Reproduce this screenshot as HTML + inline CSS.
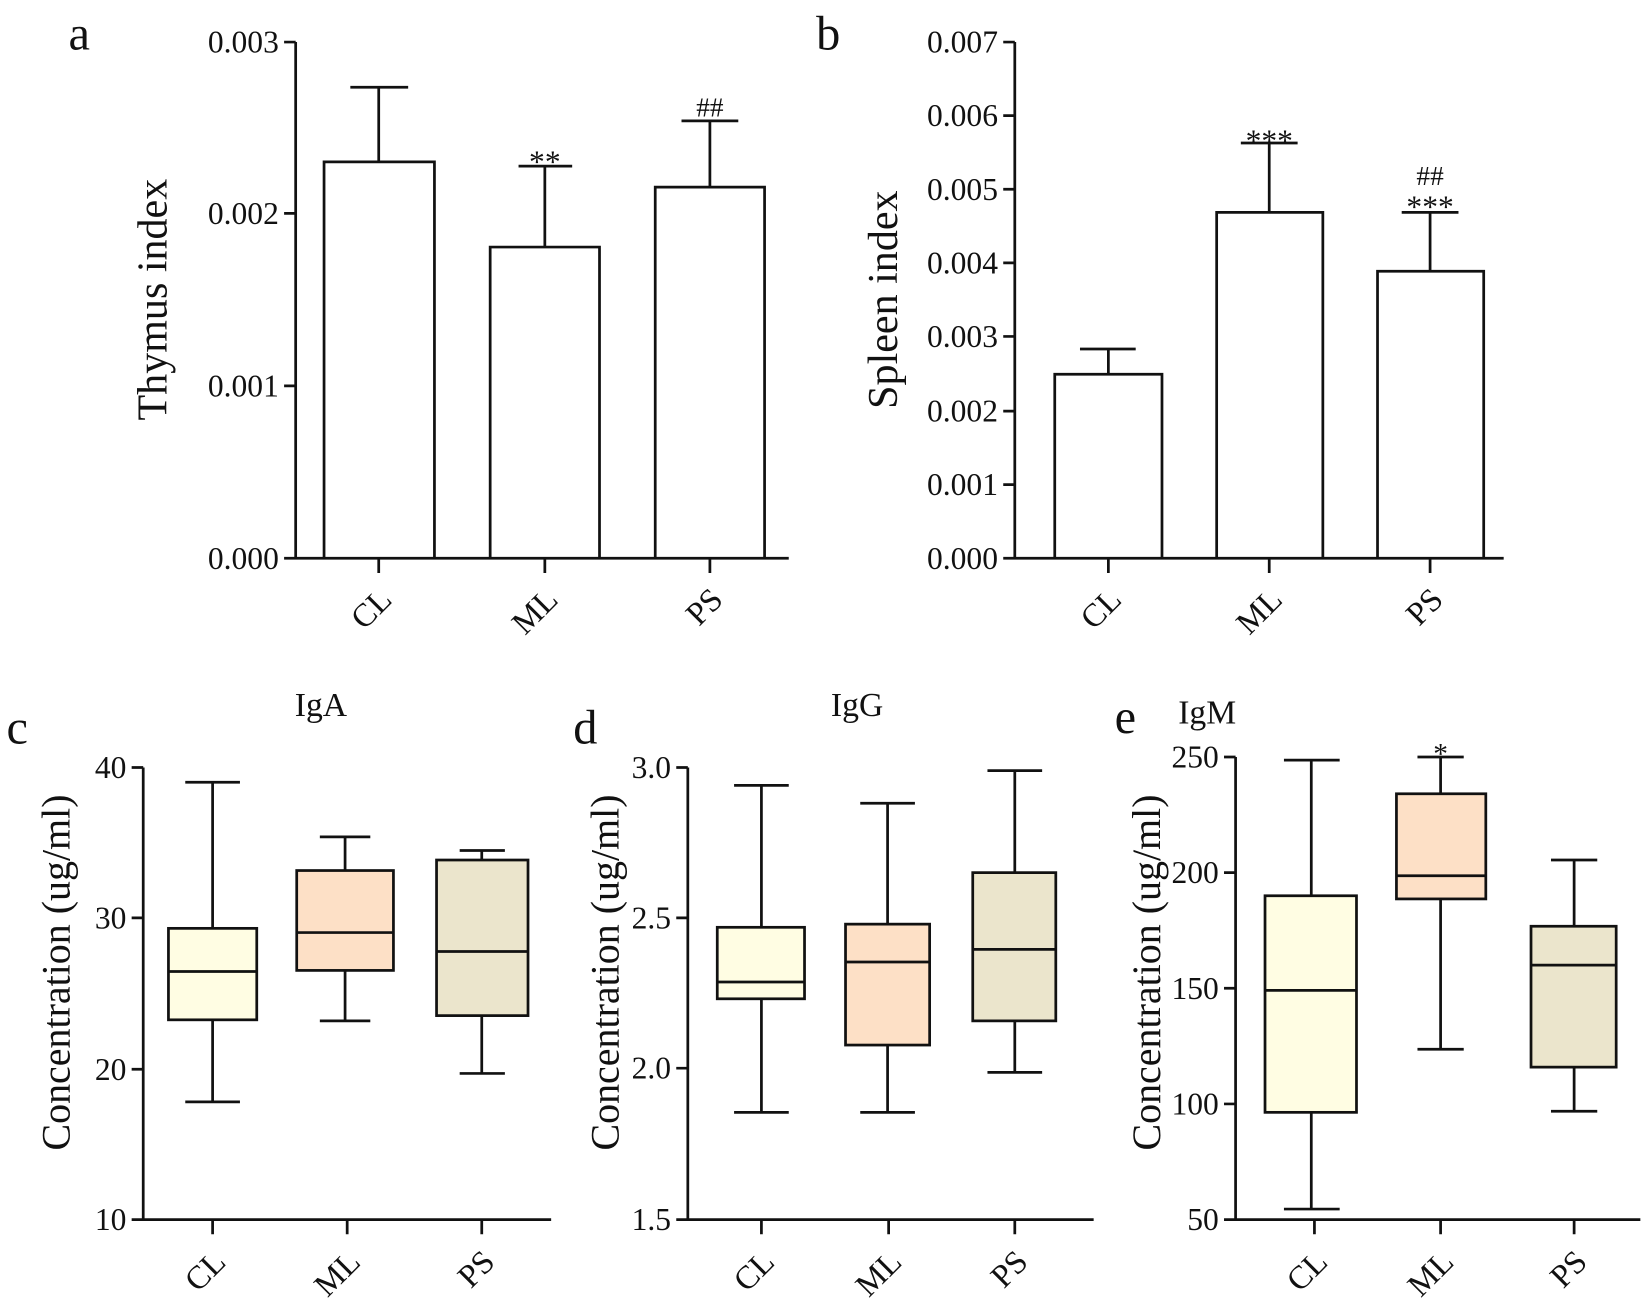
<!DOCTYPE html>
<html><head><meta charset="utf-8"><style>
html,body{margin:0;padding:0;background:#fff;}
svg{display:block;}
text{font-family:"Liberation Serif",serif;fill:#111;}
.t{font-size:30px;}
.x{font-size:31px;}
.l{stroke:#111;stroke-width:2.6;fill:none;}
</style></head><body>
<svg width="1649" height="1310" viewBox="0 0 1568 1246" xmlns="http://www.w3.org/2000/svg">
<!-- Panel a -->
<text x="65" y="47" font-size="46">a</text>
<path class="l" d="M281 40V531H750M270 40H281M270 203H281M270 367H281M270 531H281M360 531V545M518 531V545M675 531V545"/>
<g class="t" text-anchor="end"><text x="265" y="50">0.003</text><text x="265" y="213">0.002</text><text x="265" y="377">0.001</text><text x="265" y="541">0.000</text></g>
<text transform="translate(158 285) rotate(-90)" font-size="40" text-anchor="middle">Thymus index</text>
<path class="l" d="M308 531V154H413V531M360 154V83M333 83H388M466 531V235H570V531M518 235V158M493 158H544M623 531V178H727V531M675 178V115M648 115H702"/>
<text x="518" y="164" font-size="30" text-anchor="middle">**</text>
<text x="675" y="111" font-size="26" text-anchor="middle">##</text>
<g class="x" text-anchor="end"><text transform="translate(374 572) rotate(-45)">CL</text><text transform="translate(532 572) rotate(-45)">ML</text><text transform="translate(689 572) rotate(-45)">PS</text></g>
<!-- Panel b -->
<text x="776" y="47" font-size="46">b</text>
<path class="l" d="M965 40V531H1430M954 40H965M954 110H965M954 180H965M954 250H965M954 320H965M954 391H965M954 461H965M954 531H965M1054 531V545M1207 531V545M1360 531V545"/>
<g class="t" text-anchor="end"><text x="949" y="50">0.007</text><text x="949" y="120">0.006</text><text x="949" y="190">0.005</text><text x="949" y="260">0.004</text><text x="949" y="330">0.003</text><text x="949" y="401">0.002</text><text x="949" y="471">0.001</text><text x="949" y="541">0.000</text></g>
<text transform="translate(853 285) rotate(-90)" font-size="40" text-anchor="middle">Spleen index</text>
<path class="l" d="M1003 531V356H1105V531M1054 356V332M1027 332H1080M1157 531V202H1258V531M1207 202V136M1180 136H1234M1310 531V258H1411V531M1360 258V202M1333 202H1387"/>
<text x="1207" y="144" font-size="30" text-anchor="middle">***</text>
<text x="1360" y="207" font-size="30" text-anchor="middle">***</text>
<text x="1360" y="176" font-size="26" text-anchor="middle">##</text>
<g class="x" text-anchor="end"><text transform="translate(1068 572) rotate(-45)">CL</text><text transform="translate(1221 572) rotate(-45)">ML</text><text transform="translate(1374 572) rotate(-45)">PS</text></g>
<!-- Panel c -->
<text x="6" y="707" font-size="46">c</text>
<text x="305" y="681" font-size="32" text-anchor="middle">IgA</text>
<path class="l" d="M136 730V1160H524M125 730H136M125 873H136M125 1017H136M125 1160H136M202 1160V1174M330 1160V1174M458 1160V1174"/>
<g class="t" text-anchor="end"><text x="120" y="740">40</text><text x="120" y="883">30</text><text x="120" y="1027">20</text><text x="120" y="1170">10</text></g>
<text transform="translate(66 925) rotate(-90)" font-size="38" text-anchor="middle">Concentration (ug/ml)</text>
<rect x="160" y="883" width="84" height="87" class="l" style="fill:#fffde3"/>
<rect x="282" y="828" width="92" height="95" class="l" style="fill:#fde0c6"/>
<rect x="415" y="818" width="87" height="148" class="l" style="fill:#ebe5cc"/>
<path class="l" d="M160 924H244M202 883V744M176 744H228M202 970V1048M176 1048H228M282 887H374M328 828V796M304 796H352M328 923V971M304 971H352M415 905H502M458 818V809M437 809H480M458 966V1021M437 1021H480"/>
<g class="x" text-anchor="end"><text transform="translate(216 1202) rotate(-45)">CL</text><text transform="translate(344 1202) rotate(-45)">ML</text><text transform="translate(472 1202) rotate(-45)">PS</text></g>
<!-- Panel d -->
<text x="545" y="707" font-size="46">d</text>
<text x="815" y="681" font-size="32" text-anchor="middle">IgG</text>
<path class="l" d="M654 730V1160H1040M643 730H654M643 873H654M643 1016H654M643 1160H654M724 1160V1174M845 1160V1174M965 1160V1174"/>
<g class="t" text-anchor="end"><text x="638" y="740">3.0</text><text x="638" y="883">2.5</text><text x="638" y="1026">2.0</text><text x="638" y="1170">1.5</text></g>
<text transform="translate(588 925) rotate(-90)" font-size="38" text-anchor="middle">Concentration (ug/ml)</text>
<rect x="682" y="882" width="83" height="68" class="l" style="fill:#fffde3"/>
<rect x="804" y="879" width="80" height="115" class="l" style="fill:#fde0c6"/>
<rect x="925" y="830" width="79" height="141" class="l" style="fill:#ebe5cc"/>
<path class="l" d="M682 934H765M724 882V747M698 747H750M724 950V1058M698 1058H750M804 915H884M844 879V764M818 764H870M844 994V1058M818 1058H870M925 903H1004M965 830V733M939 733H991M965 971V1020M939 1020H991"/>
<g class="x" text-anchor="end"><text transform="translate(738 1202) rotate(-45)">CL</text><text transform="translate(859 1202) rotate(-45)">ML</text><text transform="translate(979 1202) rotate(-45)">PS</text></g>
<!-- Panel e -->
<text x="1060" y="697" font-size="46">e</text>
<text x="1148" y="688" font-size="32" text-anchor="middle">IgM</text>
<path class="l" d="M1175 720V1160H1560M1164 720H1175M1164 830H1175M1164 940H1175M1164 1050H1175M1164 1160H1175M1250 1160V1174M1370 1160V1174M1497 1160V1174"/>
<g class="t" text-anchor="end"><text x="1159" y="730">250</text><text x="1159" y="840">200</text><text x="1159" y="950">150</text><text x="1159" y="1060">100</text><text x="1159" y="1170">50</text></g>
<text transform="translate(1103 925) rotate(-90)" font-size="38" text-anchor="middle">Concentration (ug/ml)</text>
<rect x="1203" y="852" width="87" height="206" class="l" style="fill:#fffde3"/>
<rect x="1328" y="755" width="85" height="100" class="l" style="fill:#fde0c6"/>
<rect x="1456" y="881" width="81" height="134" class="l" style="fill:#ebe5cc"/>
<path class="l" d="M1203 942H1290M1247 852V723M1221 723H1274M1247 1058V1150M1221 1150H1274M1328 833H1413M1370 755V720M1348 720H1392M1370 855V998M1348 998H1392M1456 918H1537M1497 881V818M1475 818H1519M1497 1015V1057M1475 1057H1519"/>
<text x="1370" y="726" font-size="28" text-anchor="middle">*</text>
<g class="x" text-anchor="end"><text transform="translate(1264 1202) rotate(-45)">CL</text><text transform="translate(1384 1202) rotate(-45)">ML</text><text transform="translate(1511 1202) rotate(-45)">PS</text></g>
</svg>
</body></html>
